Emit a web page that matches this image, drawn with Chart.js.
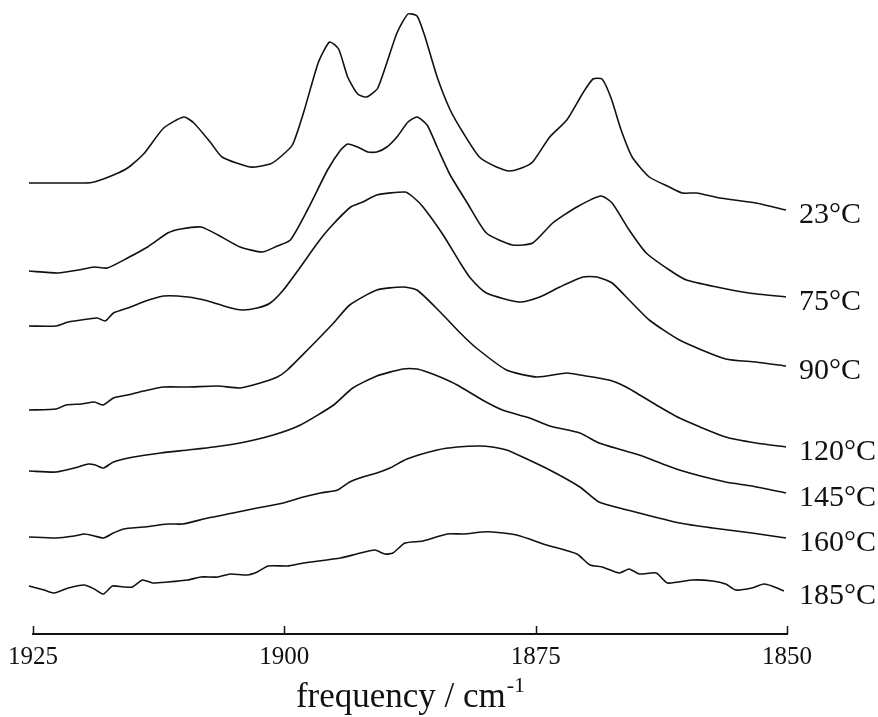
<!DOCTYPE html>
<html><head><meta charset="utf-8">
<script src="https://cdn.jsdelivr.net/npm/chart.js@4/dist/chart.umd.min.js"></script>
<style>html,body{margin:0;padding:0;background:#fff;} #wrap{width:878px;height:717px;}</style>
</head><body><div id="wrap"><canvas id="c" width="878" height="717"></canvas></div>
<script>
// Frequencies (cm-1) and offset intensities (a.u.) for each temperature
const f23 = [1925.4,1922.5,1919.9,1918.9,1917.0,1915.6,1914.0,1912.0,1910.0,1909.0,1907.3,1906.2,1903.4,1901.4,1900.4,1899.2,1898.1,1896.6,1895.5,1894.6,1893.7,1892.7,1891.8,1890.7,1888.8,1887.7,1886.8,1886.0,1884.8,1883.5,1882.2,1880.6,1878.9,1877.6,1876.4,1875.3,1873.6,1871.9,1870.3,1869.3,1868.4,1867.5,1866.5,1865.4,1863.7,1861.7,1860.4,1859.0,1856.7,1853.1,1850.1];
const a23 = [447,447,447,448,455,462,476,502,513,507,487,473,463,466,473,485,517,568,588,581,553,536,533,542,597,616,614,593,553,520,497,473,463,459,462,468,493,510,537,551,551,532,500,473,453,443,437,437,432,427,420];

const f75 = [1925.4,1922.5,1920.5,1918.9,1917.6,1915.6,1913.6,1911.6,1910.3,1908.3,1906.6,1904.4,1902.2,1900.7,1899.4,1897.7,1895.7,1894.4,1893.7,1892.7,1891.7,1890.8,1889.8,1888.8,1887.7,1886.8,1885.8,1884.8,1883.5,1881.8,1879.9,1877.3,1875.3,1873.3,1870.9,1868.5,1867.4,1865.7,1864.0,1861.7,1860.0,1857.0,1853.8,1850.1];
const a75 = [359,357,360,363,362,372,383,397,401,403,395,383,378,384,390,420,460,480,486,483,478,478,483,493,508,513,505,483,455,427,397,385,387,407,423,434,427,400,377,360,350,343,337,333];

const f90 = [1925.4,1922.7,1921.5,1919.5,1918.6,1917.8,1917.0,1915.3,1913.8,1912.0,1909.6,1907.6,1905.7,1904.2,1902.7,1901.4,1900.1,1898.4,1896.7,1895.4,1893.4,1892.2,1890.8,1888.0,1887.2,1886.2,1884.2,1882.5,1881.5,1879.9,1876.6,1874.6,1872.6,1870.3,1868.9,1867.4,1865.7,1863.7,1860.7,1856.1,1853.1,1850.1];
const a90 = [304,304,308,311,312,309,317,323,329,334,333,329,323,320,322,327,340,363,387,403,423,428,435,438,433,423,395,367,352,337,328,333,343,353,353,347,330,310,290,271,268,264];

const f120 = [1925.4,1922.7,1921.7,1920.2,1918.9,1918.0,1917.0,1915.6,1914.0,1912.0,1909.6,1906.6,1904.4,1902.4,1900.7,1899.7,1897.7,1895.1,1893.5,1890.8,1888.2,1886.8,1884.5,1882.5,1880.9,1877.9,1874.9,1871.9,1870.6,1867.7,1866.0,1863.0,1860.7,1856.1,1853.1,1850.1];
const a120 = [220,221,225,226,228,225,232,235,239,243,243,244,242,247,253,260,280,307,325,340,343,340,318,297,282,260,253,257,255,250,243,225,212,193,187,183];

const f145 = [1925.4,1922.7,1920.5,1919.5,1918.8,1918.0,1917.0,1915.0,1912.3,1909.6,1907.0,1904.4,1901.1,1898.4,1895.1,1893.2,1890.8,1888.2,1886.8,1885.8,1884.5,1882.8,1880.3,1878.3,1875.6,1873.6,1870.6,1868.7,1866.4,1864.7,1860.7,1856.1,1853.5,1850.1];
const a145 = [159,158,163,166,165,162,168,173,177,180,183,187,195,205,225,242,254,261,261,258,253,245,230,220,212,204,197,187,180,175,160,148,144,137];

const f160 = [1925.4,1922.7,1920.9,1919.9,1918.9,1918.0,1917.0,1916.0,1914.0,1911.6,1910.1,1907.6,1905.1,1902.7,1900.1,1898.1,1896.4,1894.7,1893.5,1892.2,1890.8,1889.5,1887.8,1884.8,1882.8,1880.6,1879.3,1877.9,1876.3,1873.6,1870.6,1868.7,1864.7,1860.7,1857.4,1853.5,1850.1];
const a160 = [93,92,94,96,94,92,97,101,103,106,106,112,117,122,127,133,137,140,148,153,157,162,171,180,183,184,183,180,173,160,143,128,117,107,102,97,92];

const f185 = [1925.4,1923.9,1922.9,1921.5,1919.9,1918.9,1918.0,1917.1,1916.0,1915.1,1914.1,1913.1,1911.6,1909.6,1908.3,1906.6,1905.4,1903.7,1902.7,1901.6,1899.7,1898.1,1894.4,1892.8,1891.0,1890.0,1889.2,1888.0,1886.2,1883.8,1882.2,1880.3,1879.3,1876.9,1873.9,1870.9,1869.6,1868.4,1866.7,1865.7,1864.7,1863.0,1861.9,1859.4,1857.4,1856.1,1855.1,1853.5,1852.3,1851.5,1850.3];
const a185 = [44,40,37,42,45,41,36,44,43,43,50,47,48,50,53,53,56,55,58,64,64,67,72,76,80,76,77,87,89,96,96,98,98,95,85,76,65,63,57,61,56,57,47,50,49,46,40,42,46,44,39];

const temperatures = ['23°C','75°C','90°C','120°C','145°C','160°C','185°C'];
const freqSeries = [f23, f75, f90, f120, f145, f160, f185];
const intSeries = [a23, a75, a90, a120, a145, a160, a185];
const xTicks = [1925, 1900, 1875, 1850];
const xTitle = 'frequency / cm';
const xTitleSup = '-1';

const FONT = "'Liberation Serif','Times New Roman',serif";
const INK = '#111';

const datasets = temperatures.map((t, i) => ({
  label: t,
  data: freqSeries[i].map((f, j) => ({ x: f, y: intSeries[i][j] })),
  borderColor: INK,
  borderWidth: 1.6,
  pointRadius: 0,
  tension: 0.2,
  fill: false,
  clip: false
}));

const decorations = {
  id: 'decorations',
  afterDatasetsDraw(chart) {
    const ctx = chart.ctx, xs = chart.scales.x, area = chart.chartArea;
    ctx.save();
    // temperature labels at the end of each trace
    ctx.fillStyle = INK;
    ctx.font = '30px ' + FONT;
    ctx.textAlign = 'left';
    ctx.textBaseline = 'middle';
    chart.data.datasets.forEach((ds, i) => {
      const meta = chart.getDatasetMeta(i);
      const last = meta.data[meta.data.length - 1];
      ctx.fillText(ds.label, area.right + 12, last.y + 5);
    });
    // inward tick marks
    ctx.strokeStyle = INK;
    ctx.lineWidth = 1.5;
    xs.ticks.forEach(t => {
      const px = Math.round(xs.getPixelForValue(t.value)) + 0.5;
      ctx.beginPath();
      ctx.moveTo(px, area.bottom);
      ctx.lineTo(px, area.bottom - 8);
      ctx.stroke();
    });
    // axis title with superscript
    ctx.textBaseline = 'alphabetic';
    ctx.font = '35px ' + FONT;
    const w1 = ctx.measureText(xTitle).width;
    ctx.font = '22px ' + FONT;
    const w2 = ctx.measureText(xTitleSup).width;
    const cx = (area.left + area.right) / 2;
    const x0 = cx - (w1 + w2) / 2;
    const base = xs.bottom - 10;
    ctx.font = '35px ' + FONT;
    ctx.fillText(xTitle, x0, base);
    ctx.font = '22px ' + FONT;
    ctx.fillText(xTitleSup, x0 + w1 + 1, base - 15);
    ctx.restore();
  }
};

new Chart(document.getElementById('c'), {
  type: 'line',
  data: { datasets },
  options: {
    responsive: false,
    animation: false,
    events: [],
    layout: { padding: { left: 31, right: 91, top: 0, bottom: 0 } },
    plugins: { legend: { display: false }, tooltip: { enabled: false }, title: { display: false } },
    scales: {
      x: {
        type: 'linear',
        reverse: true,
        min: 1850,
        max: 1925,
        afterBuildTicks: (s) => { s.ticks = xTicks.map(v => ({ value: v })); },
        afterFit: (s) => { s.height = 83; },
        ticks: {
          callback: (v) => String(v),
          font: { family: FONT, size: 25 },
          color: INK,
          padding: 8,
          maxRotation: 0,
          autoSkip: false
        },
        grid: { display: false, drawTicks: false },
        border: { display: true, color: INK, width: 2 }
      },
      y: { display: false, min: -4, max: 630 }
    }
  },
  plugins: [decorations]
});
</script>
</body></html>
